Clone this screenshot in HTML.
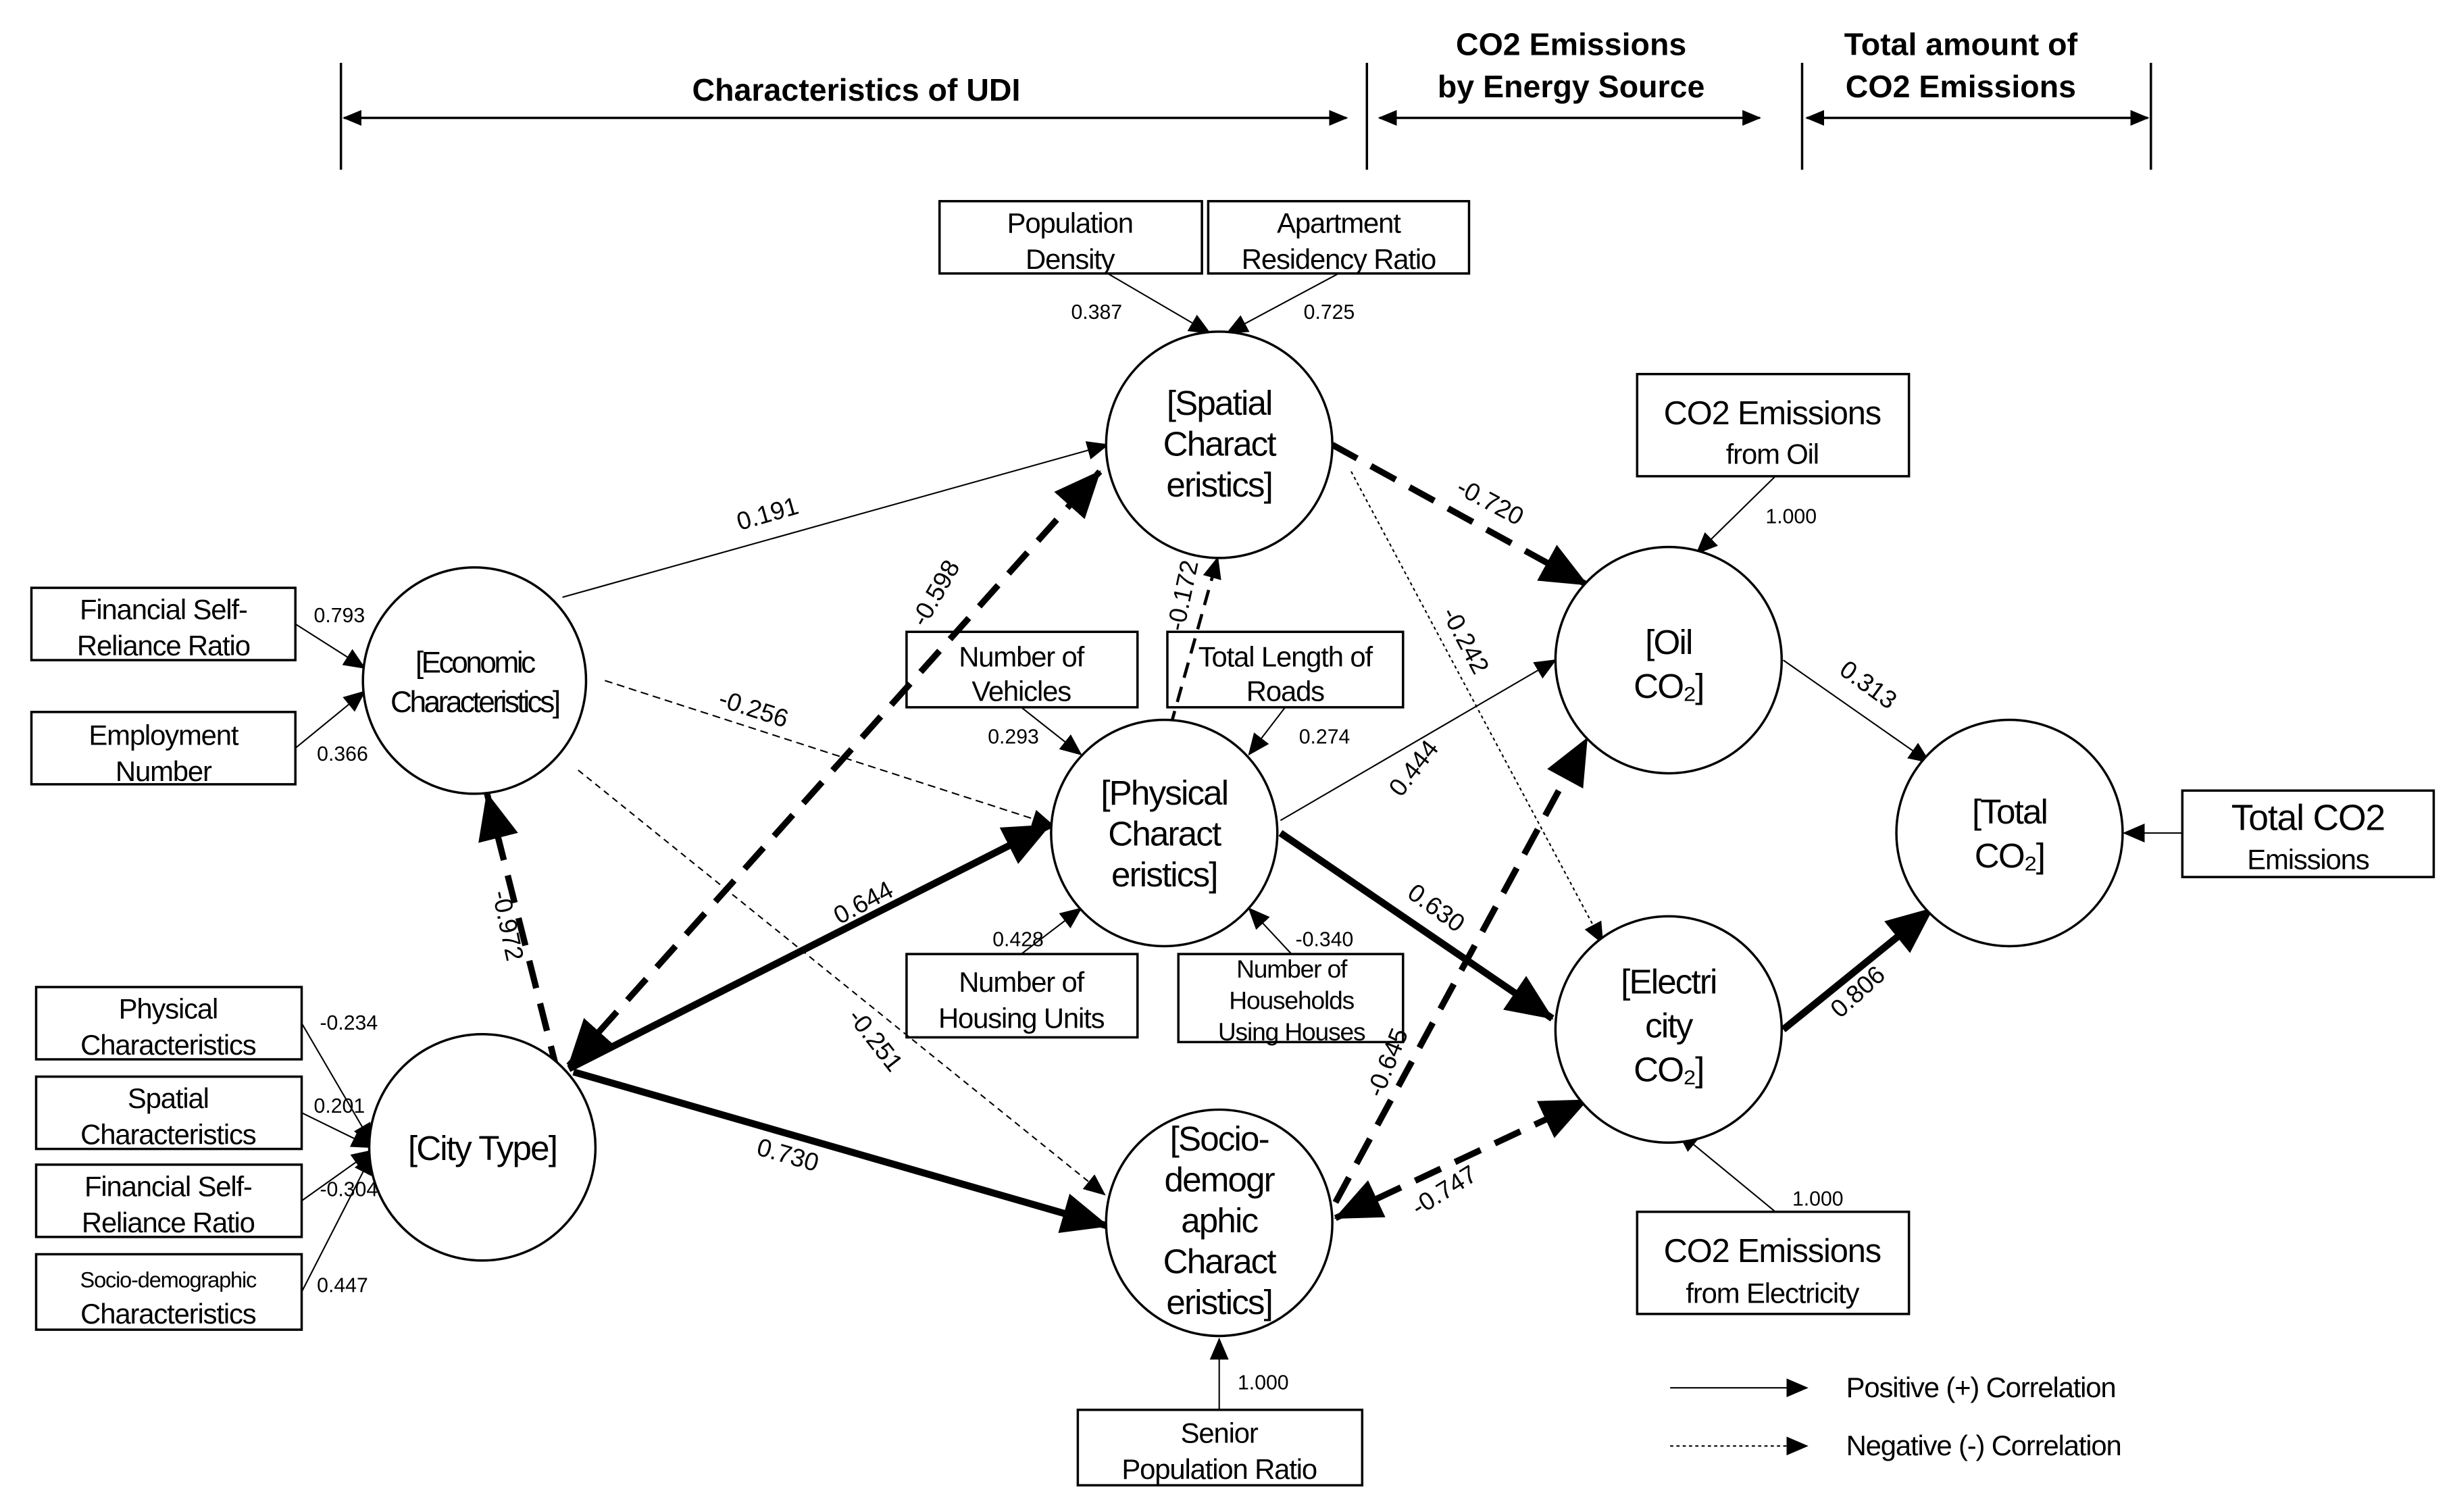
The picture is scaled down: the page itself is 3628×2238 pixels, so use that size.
<!DOCTYPE html>
<html><head><meta charset="utf-8"><style>
html,body{margin:0;padding:0;background:#fff;}
svg{display:block;}
text{font-family:"Liberation Sans","DejaVu Sans",sans-serif;fill:#000;}
.n{font-size:22px;text-anchor:middle;letter-spacing:-0.8px;}
.b{font-size:18px;text-anchor:middle;letter-spacing:-0.5px;}
.l{font-size:13px;text-anchor:middle;}
.e{font-size:16px;text-anchor:middle;}
.h{font-size:20px;text-anchor:middle;font-weight:bold;}
</style></head><body>
<svg width="3628" height="2238" viewBox="0 0 1560 962" preserveAspectRatio="none" xmlns="http://www.w3.org/2000/svg">
<defs>
<marker id="s" markerUnits="userSpaceOnUse" markerWidth="14" markerHeight="12" refX="13" refY="6" orient="auto"><path d="M0,0 L14,6 L0,12 z" fill="#000"/></marker>
<marker id="t" markerUnits="userSpaceOnUse" markerWidth="30" markerHeight="26" refX="29" refY="13" orient="auto"><path d="M0,0 L30,13 L0,26 z" fill="#000"/></marker>
<marker id="ts" markerUnits="userSpaceOnUse" markerWidth="30" markerHeight="26" refX="1" refY="13" orient="auto"><path d="M30,0 L0,13 L30,26 z" fill="#000"/></marker>
<marker id="hs" markerUnits="userSpaceOnUse" markerWidth="12" markerHeight="10" refX="11" refY="5" orient="auto"><path d="M0,0 L12,5 L0,10 z" fill="#000"/></marker>
<marker id="hss" markerUnits="userSpaceOnUse" markerWidth="12" markerHeight="10" refX="1" refY="5" orient="auto"><path d="M12,0 L0,5 L12,10 z" fill="#000"/></marker>
</defs>
<rect width="1560" height="962" fill="#fff"/>
<!-- header -->
<g stroke="#000" stroke-width="1.5">
<line x1="217" y1="40" x2="217" y2="108"/><line x1="870" y1="40" x2="870" y2="108"/>
<line x1="1147" y1="40" x2="1147" y2="108"/><line x1="1369" y1="40" x2="1369" y2="108"/>
<line x1="219" y1="75" x2="857" y2="75" marker-start="url(#hss)" marker-end="url(#hs)"/>
<line x1="878" y1="75" x2="1120" y2="75" marker-start="url(#hss)" marker-end="url(#hs)"/>
<line x1="1150" y1="75" x2="1367" y2="75" marker-start="url(#hss)" marker-end="url(#hs)"/>
</g>
<text class="h" x="545" y="64">Characteristics of UDI</text>
<text class="h" x="1000" y="35">CO2 Emissions</text><text class="h" x="1000" y="62">by Energy Source</text>
<text class="h" x="1248" y="35">Total amount of</text><text class="h" x="1248" y="62">CO2 Emissions</text>

<!-- boxes -->
<g fill="#fff" stroke="#000" stroke-width="1.5">
<rect x="598" y="128" width="167" height="46"/><rect x="769" y="128" width="166" height="46"/>
<rect x="1042" y="238" width="173" height="65"/>
<rect x="20" y="374" width="168" height="46"/><rect x="20" y="453" width="168" height="46"/>
<rect x="577" y="402" width="147" height="48"/><rect x="743" y="402" width="150" height="48"/>
<rect x="1389" y="503" width="160" height="55"/>
<rect x="577" y="607" width="147" height="53"/><rect x="750" y="607" width="143" height="56"/>
<rect x="23" y="628" width="169" height="46"/><rect x="23" y="685" width="169" height="46"/>
<rect x="23" y="741" width="169" height="46"/><rect x="23" y="798" width="169" height="48"/>
<rect x="1042" y="771" width="173" height="65"/>
<rect x="686" y="897" width="181" height="48"/>
</g>
<text class="b" x="681" y="148">Population</text><text class="b" x="681" y="171">Density</text>
<text class="b" x="852" y="148">Apartment</text><text class="b" x="852" y="171">Residency Ratio</text>
<text class="b" x="1128" y="270" style="font-size:21px">CO2 Emissions</text><text class="b" x="1128" y="295">from Oil</text>
<text class="b" x="104" y="394">Financial Self-</text><text class="b" x="104" y="417">Reliance Ratio</text>
<text class="b" x="104" y="474">Employment</text><text class="b" x="104" y="497">Number</text>
<text class="b" x="650" y="424">Number of</text><text class="b" x="650" y="446">Vehicles</text>
<text class="b" x="818" y="424">Total Length of</text><text class="b" x="818" y="446">Roads</text>
<text class="b" x="1469" y="528" style="font-size:23px">Total CO2</text><text class="b" x="1469" y="553">Emissions</text>
<text class="b" x="650" y="631">Number of</text><text class="b" x="650" y="654">Housing Units</text>
<text class="b" x="822" y="622" style="font-size:16px">Number of</text><text class="b" x="822" y="642" style="font-size:16px">Households</text><text class="b" x="822" y="662" style="font-size:16px">Using Houses</text>
<text class="b" x="107" y="648">Physical</text><text class="b" x="107" y="671">Characteristics</text>
<text class="b" x="107" y="705">Spatial</text><text class="b" x="107" y="728">Characteristics</text>
<text class="b" x="107" y="761">Financial Self-</text><text class="b" x="107" y="784">Reliance Ratio</text>
<text class="b" x="107" y="819" style="font-size:14px">Socio-demographic</text><text class="b" x="107" y="842">Characteristics</text>
<text class="b" x="1128" y="803" style="font-size:21px">CO2 Emissions</text><text class="b" x="1128" y="829">from Electricity</text>
<text class="b" x="776" y="918">Senior</text><text class="b" x="776" y="941">Population Ratio</text>

<!-- thin connectors -->
<g stroke="#000" stroke-width="0.9" fill="none">
<line x1="705" y1="174" x2="770" y2="212" marker-end="url(#s)"/>
<line x1="852" y1="174" x2="781" y2="212" marker-end="url(#s)"/>
<line x1="188" y1="397" x2="232" y2="425" marker-end="url(#s)"/>
<line x1="188" y1="476" x2="232" y2="440" marker-end="url(#s)"/>
<line x1="650" y1="450" x2="688" y2="480" marker-end="url(#s)"/>
<line x1="818" y1="450" x2="795" y2="480" marker-end="url(#s)"/>
<line x1="650" y1="607" x2="688" y2="578" marker-end="url(#s)"/>
<line x1="822" y1="607" x2="795" y2="578" marker-end="url(#s)"/>
<line x1="192" y1="651" x2="237" y2="728" marker-end="url(#s)"/>
<line x1="192" y1="708" x2="237" y2="730" marker-end="url(#s)"/>
<line x1="192" y1="764" x2="237" y2="732" marker-end="url(#s)"/>
<line x1="192" y1="822" x2="237" y2="734" marker-end="url(#s)"/>
<line x1="1130" y1="303" x2="1080" y2="352" marker-end="url(#s)"/>
<line x1="1130" y1="771" x2="1068" y2="720" marker-end="url(#s)"/>
<line x1="776" y1="897" x2="776" y2="852" marker-end="url(#s)"/>
<line x1="1389" y1="530" x2="1352" y2="530" marker-end="url(#s)"/>
<line x1="358" y1="380" x2="705" y2="283" marker-end="url(#s)"/>
<line x1="815" y1="522" x2="990" y2="420" marker-end="url(#s)"/>
<line x1="1135" y1="420" x2="1228" y2="485" marker-end="url(#s)"/>
<line x1="385" y1="433" x2="670" y2="525" stroke-dasharray="5,3" marker-end="url(#s)"/>
<line x1="368" y1="490" x2="703" y2="760" stroke-dasharray="4,3" marker-end="url(#s)"/>
<line x1="860" y1="300" x2="1020" y2="600" stroke-dasharray="2,2" marker-end="url(#s)"/>
<line x1="1063" y1="883" x2="1150" y2="883" marker-end="url(#s)"/>
<line x1="1063" y1="920" x2="1150" y2="920" stroke-dasharray="2,2" marker-end="url(#s)"/>
</g>
<!-- thick connectors -->
<g stroke="#000" fill="none">
<line x1="745" y1="462" x2="775" y2="355" stroke-width="2" stroke-dasharray="10,6" marker-end="url(#s)"/>
<line x1="355" y1="683" x2="310" y2="505" stroke-width="4" stroke-dasharray="18,10" marker-end="url(#t)"/>
<line x1="362" y1="678" x2="700" y2="300" stroke-width="4" stroke-dasharray="18,10" marker-end="url(#t)" marker-start="url(#ts)"/>
<line x1="362" y1="680" x2="668" y2="525" stroke-width="4.5" marker-end="url(#t)"/>
<line x1="365" y1="682" x2="705" y2="780" stroke-width="4.5" marker-end="url(#t)"/>
<line x1="848" y1="283" x2="1010" y2="372" stroke-width="4" stroke-dasharray="18,10" marker-end="url(#t)"/>
<line x1="815" y1="530" x2="988" y2="648" stroke-width="4.5" marker-end="url(#t)"/>
<line x1="850" y1="765" x2="1010" y2="470" stroke-width="4" stroke-dasharray="18,10" marker-end="url(#t)"/>
<line x1="850" y1="775" x2="1010" y2="700" stroke-width="4" stroke-dasharray="18,10" marker-end="url(#t)" marker-start="url(#ts)"/>
<line x1="1135" y1="655" x2="1230" y2="578" stroke-width="4.5" marker-end="url(#t)"/>
</g>

<!-- nodes -->
<g fill="#fff" stroke="#000" stroke-width="1.5">
<ellipse cx="776" cy="283" rx="72" ry="72"/>
<ellipse cx="302" cy="433" rx="71" ry="72"/>
<ellipse cx="741" cy="530" rx="72" ry="72"/>
<ellipse cx="1062" cy="420" rx="72" ry="72"/>
<ellipse cx="1062" cy="655" rx="72" ry="72"/>
<ellipse cx="1279" cy="530" rx="72" ry="72"/>
<ellipse cx="307" cy="730" rx="72" ry="72"/>
<ellipse cx="776" cy="778" rx="72" ry="72"/>
</g>
<text class="n" x="776" y="264">[Spatial</text><text class="n" x="776" y="290">Charact</text><text class="n" x="776" y="316">eristics]</text>
<text class="n" x="302" y="428" style="font-size:19px;letter-spacing:-1.5px">[Economic</text><text class="n" x="302" y="453" style="font-size:19px;letter-spacing:-1.5px">Characteristics]</text>
<text class="n" x="741" y="512">[Physical</text><text class="n" x="741" y="538">Charact</text><text class="n" x="741" y="564">eristics]</text>
<text class="n" x="1062" y="416">[Oil</text><text class="n" x="1062" y="444">CO₂]</text>
<text class="n" x="1062" y="632">[Electri</text><text class="n" x="1062" y="660">city</text><text class="n" x="1062" y="688">CO₂]</text>
<text class="n" x="1279" y="524">[Total</text><text class="n" x="1279" y="552">CO₂]</text>
<text class="n" x="307" y="738">[City Type]</text>
<text class="n" x="776" y="732">[Socio-</text><text class="n" x="776" y="758">demogr</text><text class="n" x="776" y="784">aphic</text><text class="n" x="776" y="810">Charact</text><text class="n" x="776" y="836">eristics]</text>

<!-- labels -->
<text class="l" x="698" y="203">0.387</text><text class="l" x="846" y="203">0.725</text>
<text class="l" x="1140" y="333">1.000</text>
<text class="l" x="216" y="396">0.793</text><text class="l" x="218" y="484">0.366</text>
<text class="l" x="645" y="473">0.293</text><text class="l" x="843" y="473">0.274</text>
<text class="l" x="648" y="602">0.428</text><text class="l" x="843" y="602">-0.340</text>
<text class="l" x="222" y="655">-0.234</text><text class="l" x="216" y="708">0.201</text>
<text class="l" x="222" y="761">-0.304</text><text class="l" x="218" y="822">0.447</text>
<text class="l" x="1157" y="767">1.000</text><text class="l" x="804" y="884">1.000</text>
<text class="e" transform="translate(490,332) rotate(-16)">0.191</text>
<text class="e" transform="translate(478,456) rotate(18)">-0.256</text>
<text class="e" transform="translate(553,665) rotate(52)">-0.251</text>
<text class="e" transform="translate(318,590) rotate(78)">-0.972</text>
<text class="e" transform="translate(600,380) rotate(-60)">-0.598</text>
<text class="e" transform="translate(552,579) rotate(-28)">0.644</text>
<text class="e" transform="translate(500,740) rotate(16)">0.730</text>
<text class="e" transform="translate(758,380) rotate(-78)">-0.172</text>
<text class="e" transform="translate(946,324) rotate(28)">-0.720</text>
<text class="e" transform="translate(928,410) rotate(62)">-0.242</text>
<text class="e" transform="translate(904,492) rotate(-52)">0.444</text>
<text class="e" transform="translate(911,582) rotate(36)">0.630</text>
<text class="e" transform="translate(888,678) rotate(-68)">-0.645</text>
<text class="e" transform="translate(922,762) rotate(-32)">-0.747</text>
<text class="e" transform="translate(1186,440) rotate(36)">0.313</text>
<text class="e" transform="translate(1186,635) rotate(-42)">0.806</text>
<text class="b" x="1175" y="889" style="text-anchor:start">Positive (+) Correlation</text>
<text class="b" x="1175" y="926" style="text-anchor:start">Negative (-) Correlation</text>
</svg>
</body></html>
